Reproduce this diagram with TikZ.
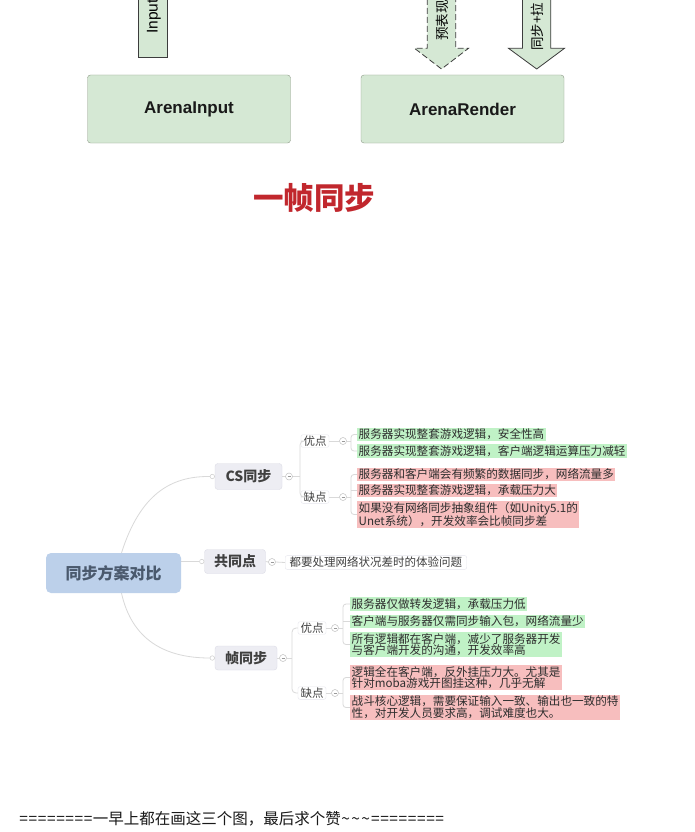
\documentclass[tikz,border=0pt]{standalone}
\usepackage{fontspec}
\setmainfont{Liberation Sans}
\newfontfamily\cjk{Noto Sans CJK SC}
\usetikzlibrary{calc,backgrounds}
\definecolor{boxgreen}{HTML}{D5E8D4}
\definecolor{boxline}{HTML}{8E9A88}
\definecolor{arrline}{HTML}{3C3C3C}
\definecolor{titlered}{HTML}{C1272D}
\definecolor{rootblue}{HTML}{BCD0EA}
\definecolor{roottext}{HTML}{4A596D}
\definecolor{lvlfill}{HTML}{EDEDF3}
\definecolor{lvlline}{HTML}{DCDCE6}
\definecolor{lvltext}{HTML}{404040}
\definecolor{connc}{HTML}{D9D9D9}
\definecolor{goodfill}{HTML}{C0F2C6}
\definecolor{badfill}{HTML}{F7BEBE}
\definecolor{itemtext}{HTML}{2E2E2E}
\newcommand\eqx{\makebox[9.2pt]{=}}
\newcommand\tlx{\makebox[10pt]{\textasciitilde}}
\begin{document}
\begin{tikzpicture}[x=1pt,y=-1pt,
  arenabox/.style={draw=boxline, fill=boxgreen, rounded corners=3pt, minimum width=203pt, minimum height=68pt, font=\bfseries\fontsize{17}{17}\selectfont, text=black!90},
  arrowlbl/.style={rotate=90, anchor=west, inner sep=0pt, text=black},
  blockarrow/.style={draw=arrline, fill=boxgreen, line width=0.8pt},
  lvlone/.style={draw=lvlline, fill=lvlfill, rounded corners=3pt, font=\cjk\bfseries\fontsize{14}{14}\selectfont, text=lvltext, inner sep=0pt},
  subnode/.style={draw=lvlline!70, fill=white, rounded corners=2pt, inner xsep=2.5pt, inner ysep=1pt, font=\cjk\fontsize{11.5}{11.5}\selectfont, text=lvltext},
  collapse/.style={circle, draw=black!25, fill=white, line width=0.5pt, inner sep=0pt, minimum size=7pt, text=black!40},
  joint/.style={circle, draw=black!20, fill=white, line width=0.5pt, inner sep=0pt, minimum size=4.5pt},
  conn/.style={draw=connc, line width=0.8pt},
  mmitem/.style={anchor=west, inner xsep=1.5pt, inner ysep=1pt, font=\cjk\fontsize{11.6}{11.6}\selectfont, text=itemtext, align=left},
  goodit/.style={mmitem, fill=goodfill},
  badit/.style={mmitem, fill=badfill}
]
\useasboundingbox (0,0) rectangle (694,832);
\clip (0,0) rectangle (694,832);
\begin{scope}[on background layer]
\fill[white] (0,0) rectangle (694,832);
\end{scope}

% ---------- top part ----------
\draw[blockarrow] (138.7,-10) rectangle (167.3,57.7);
\node[arrowlbl, font=\fontsize{15.5}{15.5}\selectfont] (inlbl) at (154,34) {Input};

\draw[blockarrow, dash pattern=on 6pt off 3pt] (427.3,-10) -- (427.3,48.3) -- (414.5,48.3) -- (441.5,69) -- (468.5,48.3) -- (455.7,48.3) -- (455.7,-10);
\node[arrowlbl, font=\cjk\fontsize{13.5}{13.5}\selectfont] (predlbl) at (442,41) {预表现};

\draw[blockarrow] (522.5,-10) -- (522.5,48.3) -- (508.5,48.3) -- (536.7,69) -- (564.5,48.3) -- (550.8,48.3) -- (550.8,-10);
\node[arrowlbl, font=\cjk\fontsize{13.5}{13.5}\selectfont] (synclbl) at (537,51) {同步+拉};

\node[arenabox] (ainput) at (189,109) {ArenaInput};
\node[arenabox] (arender) at (462.5,109) {ArenaRender};

\node[font=\cjk\bfseries\fontsize{30.5}{30.5}\selectfont, text=titlered] (title) at (314,198) {一帧同步};

% ---------- mind map ----------
\node[fill=rootblue, rounded corners=5pt, minimum width=135pt, minimum height=40pt, font=\cjk\bfseries\fontsize{16}{16}\selectfont, text=roottext] (root) at (113.5,573) {同步方案对比};

\node[lvlone, minimum width=67pt, minimum height=26pt] (cs) at (248.5,476.5) {CS同步};
\node[lvlone, minimum width=61pt, minimum height=24pt] (gtd) at (235,561.5) {共同点};
\node[lvlone, minimum width=62pt, minimum height=24pt] (frm) at (246,658) {帧同步};

\node[joint, anchor=east] (csj) at (cs.west) {};
\node[joint, anchor=east] (gtdj) at (gtd.west) {};
\node[joint, anchor=east] (frmj) at (frm.west) {};

\begin{scope}[on background layer]
\draw[conn] ($(root.north)+(8,0)$) .. controls (140,495) and (170,476) .. (csj.west);
\draw[conn] ($(root.south)+(8,0)$) .. controls (132,640) and (165,658) .. (frmj.west);
\draw[conn] (root.east |- gtdj) -- (gtdj.west);
\end{scope}

% common point
\node[collapse] (gtdc) at (272,562) {\rule{3pt}{0.6pt}};
\node[subnode, anchor=west, inner xsep=4.5pt, inner ysep=1.5pt] (gtdtxt) at (285,562.5) {都要处理网络状况差时的体验问题};
\draw[conn] (gtd.east) -- (gtdc.west);
\draw[conn] (gtdc.east) -- (gtdtxt.west);

% CS branch
\node[collapse] (csc) at (289,476.5) {\rule{3pt}{0.6pt}};
\coordinate (csv) at (300,476.5);
\node[subnode] (csy) at (315,441) {优点};
\node[subnode] (csq) at (315,497) {缺点};
\draw[conn] (cs.east) -- (csc.west);
\draw[conn] (csc.east) -- (csv);
\draw[conn, rounded corners=4pt] (csy.west) -- (csy.west -| csv) -- (csq.west -| csv) -- (csq.west);

\node[goodit] (csg1) at (357,434.5) {服务器实现整套游戏逻辑，安全性高};
\node[goodit] (csg2) at (357,451) {服务器实现整套游戏逻辑，客户端逻辑运算压力减轻};
\node[badit] (csb1) at (357,474.5) {服务器和客户端会有频繁的数据同步，网络流量多};
\node[badit] (csb2) at (357,490.5) {服务器实现整套游戏逻辑，承载压力大};
\node[badit] (csb3) at (357,514.5) {如果没有网络同步抽象组件（如Unity5.1的\\Unet系统），开发效率会比帧同步差};

\node[collapse] (csyc) at (343,441) {\rule{3pt}{0.6pt}};
\node[collapse] (csqc) at (343,497) {\rule{3pt}{0.6pt}};
\coordinate (csyv) at (351,441);
\coordinate (csqv) at (351,497);
\draw[conn] (csy.east) -- (csyc.west);
\draw[conn] (csq.east) -- (csqc.west);
\draw[conn] (csyc.east) -- (csyv);
\draw[conn] (csqc.east) -- (csqv);
\draw[conn, rounded corners=3pt] (csg1.west) -- (csg1.west -| csyv) -- (csg2.west -| csyv) -- (csg2.west);
\draw[conn, rounded corners=3pt] (csb1.west) -- (csb1.west -| csqv) -- (csb3.west -| csqv) -- (csb3.west);
\draw[conn] (csb2.west -| csqv) -- (csb2.west);

% frame sync branch
\node[collapse] (frmc) at (283,658) {\rule{3pt}{0.6pt}};
\coordinate (frmv) at (292,658);
\node[subnode] (frmy) at (312,628) {优点};
\node[subnode] (frmq) at (312,693) {缺点};
\draw[conn] (frm.east) -- (frmc.west);
\draw[conn] (frmc.east) -- (frmv);
\draw[conn, rounded corners=4pt] (frmy.west) -- (frmy.west -| frmv) -- (frmq.west -| frmv) -- (frmq.west);

\node[goodit] (fg1) at (350,604) {服务器仅做转发逻辑，承载压力低};
\node[goodit] (fg2) at (350,621.5) {客户端与服务器仅需同步输入包，网络流量少};
\node[goodit] (fg3) at (350,644.5) {所有逻辑都在客户端，减少了服务器开发\\与客户端开发的沟通，开发效率高};
\node[badit] (fb1) at (350,677.5) {逻辑全在客户端，反外挂压力大。尤其是\\针对moba游戏开图挂这种，几乎无解};
\node[badit] (fb2) at (350,707.5) {战斗核心逻辑，需要保证输入一致、输出也一致的特\\性，对开发人员要求高，调试难度也大。};

\node[collapse] (frmyc) at (335,628) {\rule{3pt}{0.6pt}};
\node[collapse] (frmqc) at (335,693) {\rule{3pt}{0.6pt}};
\coordinate (frmyv) at (343,628);
\coordinate (frmqv) at (343,693);
\draw[conn] (frmy.east) -- (frmyc.west);
\draw[conn] (frmq.east) -- (frmqc.west);
\draw[conn] (frmyc.east) -- (frmyv);
\draw[conn] (frmqc.east) -- (frmqv);
\draw[conn, rounded corners=3pt] (fg1.west) -- (fg1.west -| frmyv) -- (fg3.west -| frmyv) -- (fg3.west);
\draw[conn] (fg2.west -| frmyv) -- (fg2.west);
\draw[conn, rounded corners=3pt] (fb1.west) -- (fb1.west -| frmqv) -- (fb2.west -| frmqv) -- (fb2.west);

% ---------- footer ----------
\node[anchor=west, inner sep=0pt, font=\cjk\fontsize{15.5}{15.5}\selectfont, text=black!90] (foot) at (19,819)
  {\eqx\eqx\eqx\eqx\eqx\eqx\eqx\eqx 一早上都在画这三个图，最后求个赞\tlx\tlx\tlx\eqx\eqx\eqx\eqx\eqx\eqx\eqx\eqx};
\end{tikzpicture}
\end{document}
